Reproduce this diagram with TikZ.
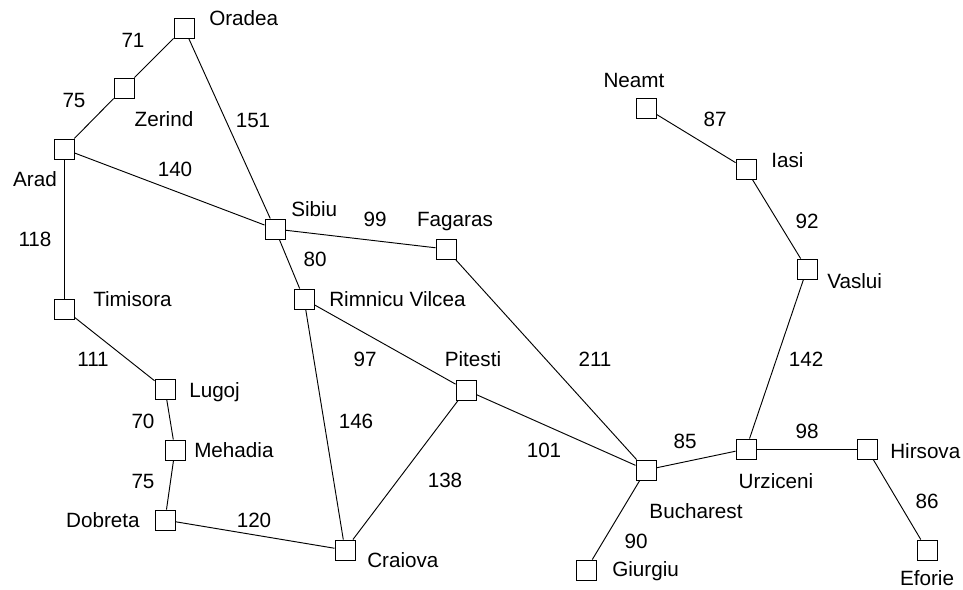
\documentclass[tikz,border=0pt]{standalone}
\usepackage{fontspec}
\setmainfont{Liberation Sans}

\begin{document}
\begin{tikzpicture}[
    x=0.75pt, y=-0.75pt,
    city/.style={rectangle, draw=black, fill=white, line width=0.7pt,
                 minimum size=15pt, inner sep=0pt},
    road/.style={-, black, line width=0.7pt},
    lbl/.style={font=\fontsize{15.5}{18}\selectfont, inner sep=0pt},
    dist/.style={lbl, anchor=base},
]

\useasboundingbox (0,0) rectangle (963,589);

% --- Cities ---
\foreach \name/\x/\y in {Oradea/184/28, Zerind/124/88, Arad/64/149,
    Timisora/64/309, Lugoj/165/389, Mehadia/175/450, Dobreta/165/520,
    Craiova/345/550, Sibiu/275/229, Rimnicu/304/299, Fagaras/446/249,
    Pitesti/466/390, Bucharest/646/470, Giurgiu/586/570, Urziceni/746/449,
    Hirsova/867/449, Eforie/927/550, Vaslui/807/269, Iasi/746/169,
    Neamt/646/108} {
    \node[city] (\name) at (\x,\y) {};
}

% --- City names (anchor, x, baseline) ---
\foreach \name/\txt/\anc/\x/\y in {Oradea/Oradea/base west/209/26,
    Zerind/Zerind/base/164/126, Arad/Arad/base/35/186,
    Timisora/Timisora/base west/93/306, Lugoj/Lugoj/base west/189/397,
    Mehadia/Mehadia/base west/194/457, Dobreta/Dobreta/base east/140/527,
    Craiova/Craiova/base west/367/567, Sibiu/Sibiu/base west/291/216,
    Rimnicu/Rimnicu Vilcea/base west/329/306, Fagaras/Fagaras/base/455/226,
    Pitesti/Pitesti/base/473/366, Neamt/Neamt/base/634/87,
    Iasi/Iasi/base west/771/167, Vaslui/Vaslui/base west/827/288,
    Urziceni/Urziceni/base/776/488, Hirsova/Hirsova/base west/890/458,
    Bucharest/Bucharest/base/696/518, Giurgiu/Giurgiu/base west/612/576,
    Eforie/Eforie/base/927/585} {
    \node[lbl, anchor=\anc] (n-\name) at (\x,\y) {\txt};
}

% --- Roads with distances ---
\foreach \a/\b/\d/\x/\y in {Oradea/Zerind/71/133/47, Zerind/Arad/75/74/107,
    Oradea/Sibiu/151/253/127, Arad/Sibiu/140/175/176,
    Arad/Timisora/118/35/246, Timisora/Lugoj/111/93/366,
    Lugoj/Mehadia/70/143/428, Mehadia/Dobreta/75/143/488,
    Dobreta/Craiova/120/254/527, Rimnicu/Craiova/146/356/428,
    Pitesti/Craiova/138/445/487, Rimnicu/Pitesti/97/365/366,
    Sibiu/Rimnicu/80/315/266, Sibiu/Fagaras/99/375/226,
    Fagaras/Bucharest/211/595/366, Pitesti/Bucharest/101/544/457,
    Bucharest/Urziceni/85/685/448, Bucharest/Giurgiu/90/636/548,
    Urziceni/Hirsova/98/807/438, Urziceni/Vaslui/142/806/366,
    Hirsova/Eforie/86/927/508, Vaslui/Iasi/92/807/228,
    Iasi/Neamt/87/715/126} {
    \draw[road] (\a) -- (\b);
    \node[dist] (d-\a-\b) at (\x,\y) {\d};
}

\end{tikzpicture}
\end{document}
